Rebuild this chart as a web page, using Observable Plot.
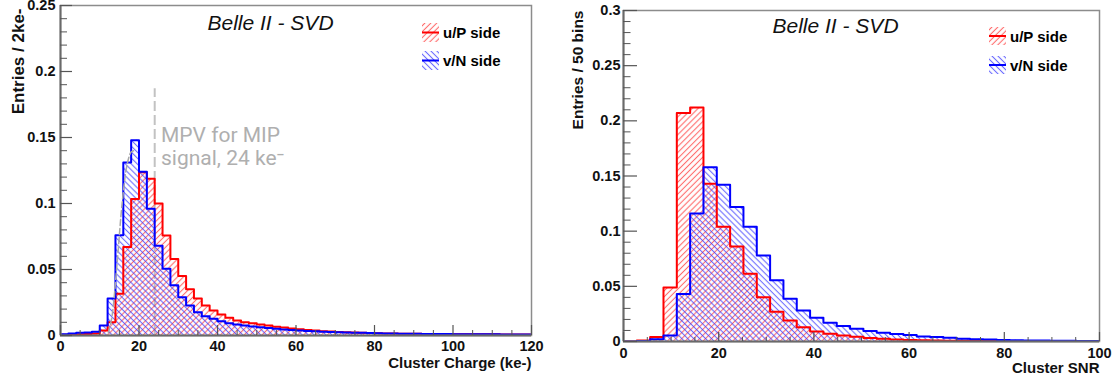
<!DOCTYPE html>
<html><head><meta charset="utf-8">
<script src="https://cdn.jsdelivr.net/npm/d3@7"></script>
<script src="https://cdn.jsdelivr.net/npm/@observablehq/plot@0.6"></script>
<style>
body{margin:0;background:#fff;font-family:"Liberation Sans",Arial,sans-serif;}
#wrap{position:relative;width:1117px;height:381px;overflow:hidden;}
#left{position:absolute;left:0;top:0;}
#right{position:absolute;left:560px;top:0;}
.leg{position:absolute;display:flex;align-items:center;font:bold 15px "Liberation Sans",Arial,sans-serif;color:#000;white-space:nowrap;}
.leg svg{margin-right:4px;display:block;}
</style></head><body>
<svg width="0" height="0" style="position:absolute">
<defs>
<pattern id="hatchRed" patternUnits="userSpaceOnUse" width="4.2" height="4.2" patternTransform="rotate(45)">
<line x1="2.1" y1="-1" x2="2.1" y2="6" stroke="#ff3b3b" stroke-width="1.1" stroke-opacity="0.75"/></pattern>
<pattern id="hatchBlue" patternUnits="userSpaceOnUse" width="4.2" height="4.2" patternTransform="rotate(-45)">
<line x1="2.1" y1="-1" x2="2.1" y2="6" stroke="#3b3bff" stroke-width="1.1" stroke-opacity="0.75"/></pattern>
</defs></svg>
<div id="wrap"><div id="left"></div><div id="right"></div></div>
<script>
// ---------- data ----------
const seriesLabels = ["u/P side", "v/N side"];
const seriesColors = ["#ff0000", "#0000ff"];
const chartTitle = "Belle II - SVD";

// Cluster charge, bins of 2 ke- from 0 to 120
const chargeBinWidth = 2;
const chargeU = [0.0005,0.0008,0.001,0.0012,0.0015,0.0038,0.010,0.0316,0.067,0.1035,
  0.1237,0.1187,0.100,0.0757,0.058,0.045,0.035,0.028,0.0227,0.019,
  0.0159,0.0134,0.0114,0.0101,0.0092,0.0083,0.0075,0.0067,0.006,0.0053,
  0.0047,0.0042,0.0037,0.0033,0.003,0.0027,0.0024,0.0022,0.002,0.0018,
  0.0017,0.0016,0.0015,0.0014,0.0013,0.0013,0.0012,0.0012,0.0011,0.0011,
  0.001,0.001,0.001,0.0009,0.0009,0.0009,0.0008,0.0008,0.0008,0.0008];
const chargeV = [0.001,0.0015,0.002,0.0022,0.0028,0.0076,0.028,0.076,0.131,0.148,
  0.124,0.096,0.068,0.0505,0.038,0.029,0.0227,0.0177,0.0146,0.0126,
  0.0108,0.0093,0.0083,0.0076,0.0068,0.0062,0.0056,0.0051,0.0046,0.0042,
  0.0038,0.0035,0.0032,0.0029,0.0027,0.0025,0.0023,0.0021,0.002,0.0019,
  0.0017,0.0016,0.0015,0.0014,0.0013,0.0013,0.0012,0.0012,0.0011,0.0011,
  0.001,0.001,0.001,0.0009,0.0009,0.0009,0.0008,0.0008,0.0008,0.0008];
const chargeXTicks = [0,20,40,60,80,100,120];
const chargeYTicks = [0,0.05,0.1,0.15,0.2,0.25];
const chargeXTitle = "Cluster Charge (ke-)";
const chargeYTitle = "Entries / 2ke-";
const mpvValue = 24;
const mpvTop = 0.187;
const mpvText = ["MPV for MIP", "signal, 24 ke\u207B"];
const fitX = [12.2, 13.1, 14.4, 15.7, 17.0, 18.0, 18.6];
const fitY = [0.002, 0.014, 0.054, 0.100, 0.130, 0.139, 0.140];

// Cluster SNR, 50 bins over 0..140 (width 2.8), shown 0..100
const snrBinWidth = 2.8;
const snrU = [0,0.001,0.004,0.049,0.207,0.212,0.143,0.104,0.086,0.0615,
  0.040,0.027,0.019,0.013,0.009,0.007,0.0055,0.0042,0.0032,0.0024,
  0.0018,0.0014,0.0011,0.0009,0.0007,0.0006,0.0005,0.0004,0.0003,0.0003,
  0.0002,0.0002,0.0002,0.0001,0.0001,0.0001];
const snrV = [0,0.0005,0.002,0.0055,0.043,0.116,0.158,0.142,0.122,0.104,
  0.078,0.0555,0.0388,0.028,0.0215,0.017,0.014,0.0115,0.0095,0.008,
  0.0068,0.0058,0.0045,0.004,0.0033,0.0025,0.002,0.0017,0.0014,0.0012,
  0.001,0.0008,0.0007,0.0006,0.0005,0.0004];
const snrXTicks = [0,20,40,60,80,100];
const snrYTicks = [0,0.05,0.1,0.15,0.2,0.25,0.3];
const snrXTitle = "Cluster SNR";
const snrYTitle = "Entries / 50 bins";

// ---------- helpers ----------
function steps(values, w) {
  const out = values.map((v, i) => ({x: i * w, y: v}));
  out.push({x: values.length * w, y: values[values.length - 1]});
  return out;
}
const fmtY = d => d === 0 ? "0" : String(+d.toFixed(2));
const bold = {fontFamily: "Liberation Sans, Arial, sans-serif", fontWeight: "bold"};

function histChart(o) {
  const innerW = o.width - o.ml - o.mr;
  const innerH = o.height - o.mt - o.mb;
  const marks = [...(o.behind || [])];
  o.series.forEach(s => marks.push(Plot.areaY(s.data, {x: "x", y: "y", curve: "step-after", fill: s.pattern, clip: true})));
  o.series.forEach(s => marks.push(Plot.lineY(s.data, {x: "x", y: "y", curve: "step-after", stroke: s.color, strokeWidth: 2, clip: true})));
  marks.push(...(o.front || []));
  marks.push(
    Plot.frame({stroke: "#8c8c8c", strokeWidth: 1.5}),
    Plot.ruleX([o.xDomain[0]], {stroke: "#6a6a6a", strokeWidth: 2}),
    Plot.ruleY([0], {stroke: "#6a6a6a", strokeWidth: 2}),
    Plot.tickY(o.yMinor, {y: d => d, stroke: "#555", strokeWidth: 1, insetRight: innerW - o.yMinorLen}),
    Plot.tickY(o.yTicks, {y: d => d, stroke: "#555", strokeWidth: 1.2, insetRight: innerW - o.yMajorLen}),
    Plot.tickX(o.xMinor, {x: d => d, stroke: "#555", strokeWidth: 1, insetTop: innerH - o.xMinorLen}),
    Plot.tickX(o.xTicks, {x: d => d, stroke: "#555", strokeWidth: 1.2, insetTop: innerH - o.xMajorLen}),
    Plot.axisY({ticks: o.yTicks, tickSize: 0, tickPadding: o.yPad, tickFormat: fmtY, fontSize: 14.5, ...bold, fill: "#111", label: null}),
    Plot.axisX({ticks: o.xTicks, tickSize: 0, tickPadding: o.xPad, tickFormat: d => String(d), fontSize: 14.5, ...bold, fill: "#111", label: null}),
    Plot.text([o.xTitle], {text: d => d, frameAnchor: "bottom-right", dy: o.xTitleDy, lineAnchor: "middle", textAnchor: "end", fontSize: 15, ...bold, fill: "#111"}),
    Plot.text([o.yTitle], {text: d => d, frameAnchor: "top-left", dx: o.yTitleDx, dy: o.yTitleDy, rotate: -90, lineAnchor: "middle", textAnchor: "end", fontSize: o.yTitleSize, ...bold, fill: "#111"}),
    Plot.text([o.title], {text: d => d, frameAnchor: "top-left", dx: o.titleDx, dy: o.titleDy, lineAnchor: "middle", textAnchor: "start", fontSize: 21, fontStyle: "italic", fontFamily: "Liberation Sans, Arial, sans-serif", fill: "#111"})
  );
  return Plot.plot({
    width: o.width, height: o.height,
    marginLeft: o.ml, marginRight: o.mr, marginTop: o.mt, marginBottom: o.mb,
    x: {domain: o.xDomain}, y: {domain: o.yDomain},
    style: {background: "transparent", overflow: "visible"},
    marks
  });
}

// ---------- left chart ----------
const fitData = fitX.map((x, i) => ({x, y: fitY[i]}));
const left = histChart({
  width: 560, height: 381, ml: 60, mr: 29, mt: 5, mb: 46,
  xDomain: [0, 120], yDomain: [0, 0.25],
  xTicks: chargeXTicks, yTicks: chargeYTicks,
  xMinor: d3.range(0, 121, 5).filter(v => v % 20 !== 0),
  yMinor: d3.range(1, 25).filter(v => v % 5 !== 0).map(v => v / 100),
  yMinorLen: 7, yMajorLen: 12, xMinorLen: 5, xMajorLen: 10,
  yPad: 5, xPad: 5, xTitleDy: 28, yTitleDx: -42, yTitleDy: 3, yTitleSize: 17,
  titleDx: 147, titleDy: 18,
  xTitle: chargeXTitle, yTitle: chargeYTitle, title: chartTitle,
  series: [
    {data: steps(chargeU, chargeBinWidth), color: seriesColors[0], pattern: "url(#hatchRed)"},
    {data: steps(chargeV, chargeBinWidth), color: seriesColors[1], pattern: "url(#hatchBlue)"}
  ],
  behind: [
    Plot.ruleX([mpvValue], {y1: 0, y2: mpvTop, stroke: "#c2c2c2", strokeWidth: 2, strokeDasharray: "10,4"})
  ],
  front: [
    Plot.line(fitData, {x: "x", y: "y", curve: "catmull-rom", stroke: "#a8a8a8", strokeWidth: 1.5, strokeDasharray: "6,3"}),
    Plot.text([mpvText.join("\n")], {text: d => d, x: () => 25.6, y: () => 0.159, lineAnchor: "top", lineHeight: 1.1, textAnchor: "start", fontSize: 21, fontFamily: "Roboto, sans-serif", fill: "#afafaf"})
  ]
});
document.getElementById("left").appendChild(left);

// ---------- right chart ----------
const right = histChart({
  width: 557, height: 381, ml: 63, mr: 18, mt: 10, mb: 40,
  xDomain: [0, 100], yDomain: [0, 0.3],
  xTicks: snrXTicks, yTicks: snrYTicks,
  xMinor: d3.range(0, 101, 5).filter(v => v % 20 !== 0),
  yMinor: d3.range(1, 30).filter(v => v % 5 !== 0).map(v => v / 100),
  yMinorLen: 7.5, yMajorLen: 14, xMinorLen: 4, xMajorLen: 9,
  yPad: 3, xPad: 6, xTitleDy: 27, yTitleDx: -45, yTitleDy: 0, yTitleSize: 15.5,
  titleDx: 149, titleDy: 16,
  xTitle: snrXTitle, yTitle: snrYTitle, title: chartTitle,
  series: [
    {data: steps(snrU, snrBinWidth), color: seriesColors[0], pattern: "url(#hatchRed)"},
    {data: steps(snrV, snrBinWidth), color: seriesColors[1], pattern: "url(#hatchBlue)"}
  ]
});
document.getElementById("right").appendChild(right);

// ---------- legends ----------
const wrap = document.getElementById("wrap");
const patterns = ["url(#hatchRed)", "url(#hatchBlue)"];
function legend(x, ys, w, h) {
  seriesLabels.forEach((lab, i) => {
    const div = document.createElement("div");
    div.className = "leg";
    div.style.left = x + "px";
    div.style.top = ys[i] + "px";
    div.innerHTML = `<svg width="${w}" height="${h}"><rect width="${w}" height="${h}" fill="${patterns[i]}"/><line x1="0" x2="${w}" y1="${h/2}" y2="${h/2}" stroke="${seriesColors[i]}" stroke-width="2"/></svg><span>${lab}</span>`;
    wrap.appendChild(div);
  });
}
legend(422, [23, 51], 17, 19);
legend(989, [27, 56], 17, 18);
</script>
</body></html>
